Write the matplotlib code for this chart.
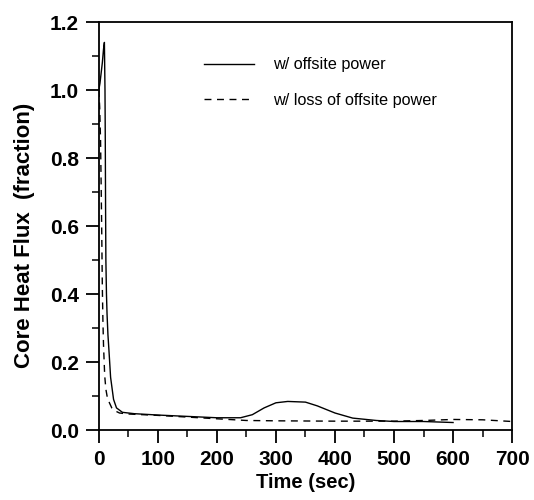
import numpy as np
import matplotlib
matplotlib.use("Agg")
import matplotlib.pyplot as plt

plt.rcParams['font.family'] = ['Liberation Sans', 'DejaVu Sans']

# w/ offsite power (solid)
t_on = [0, 2, 4, 6, 8, 9.5, 10.5, 11, 11.5, 12, 13, 14, 15.5, 17, 20, 25, 30, 40, 60, 100,
        150, 200, 240, 260, 280, 300, 320, 350, 370, 400, 430, 470, 500, 550, 600]
q_on = [1.0, 1.02, 1.05, 1.08, 1.12, 1.14, 1.0, 0.85, 0.65, 0.5, 0.4, 0.34, 0.28, 0.24, 0.155,
        0.09, 0.065, 0.052, 0.048, 0.044, 0.040, 0.036, 0.036, 0.045, 0.065, 0.080, 0.084,
        0.082, 0.071, 0.050, 0.035, 0.028, 0.025, 0.025, 0.022]

# w/ loss of offsite power (dashed)
t_loss = [0, 1.5, 3, 4, 5, 6, 7, 8, 10, 12, 14, 18, 22, 28, 35, 50, 100, 200, 250, 300,
          400, 500, 550, 600, 650, 700]
q_loss = [1.0, 0.95, 0.85, 0.72, 0.58, 0.42, 0.32, 0.25, 0.16, 0.12, 0.10, 0.08, 0.065, 0.056,
          0.05, 0.047, 0.043, 0.033, 0.028, 0.027, 0.026, 0.026, 0.028, 0.031, 0.030, 0.025]

fig = plt.figure(figsize=(5.34, 5.0), dpi=100, facecolor='white')
ax = fig.add_axes([0.185, 0.14, 0.774, 0.816])

ax.plot(t_on, q_on, 'k-', lw=1.0, label='w/ offsite power')
ax.plot(t_loss, q_loss, 'k--', lw=1.0, dashes=(5, 4), label='w/ loss of offsite power')

ax.set_xlim(0, 700)
ax.set_ylim(0, 1.2)
ax.set_xticks(np.arange(0, 701, 100))
ax.set_xticks(np.arange(0, 701, 50), minor=True)
ax.set_yticks(np.arange(0, 1.21, 0.2))
ax.set_yticks(np.arange(0, 1.21, 0.1), minor=True)
ax.set_yticklabels(['%.1f' % v for v in np.arange(0, 1.21, 0.2)])

ax.tick_params(which='major', direction='out', length=9.5, width=1.3,
               labelsize=15, pad=5, top=False, right=False)
ax.tick_params(which='minor', direction='out', length=5, width=1.1, top=False, right=False)
for lab in ax.get_xticklabels() + ax.get_yticklabels():
    lab.set_fontweight('bold')
for s in ax.spines.values():
    s.set_linewidth(1.3)

ax.set_xlabel('Time (sec)', fontsize=14.5, fontweight='bold', labelpad=3)
ax.set_ylabel('Core Heat Flux  (fraction)', fontsize=16, fontweight='bold')
ax.yaxis.set_label_coords(-0.155, 0.478)

ax.legend(loc='upper left', bbox_to_anchor=(0.235, 0.933), frameon=False, fontsize=11.7,
          handlelength=3.08, handletextpad=1.17, labelspacing=1.27, borderpad=0)

plt.savefig('out.png', dpi=100)
